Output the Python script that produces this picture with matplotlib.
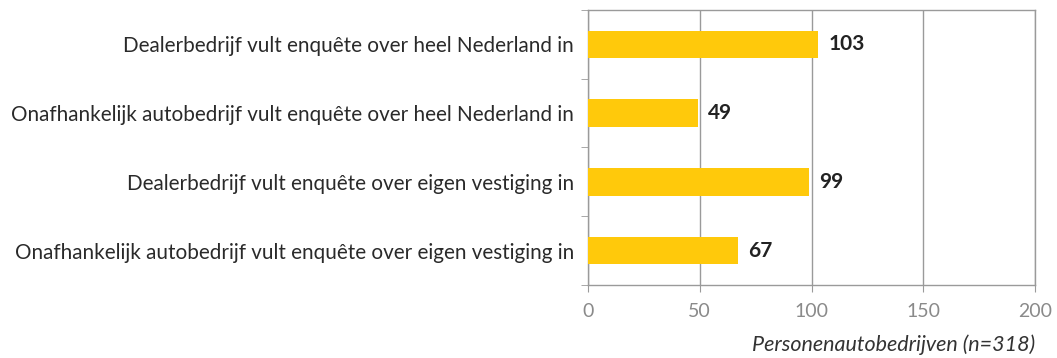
import matplotlib
matplotlib.use("Agg")
import matplotlib.pyplot as plt

categories = [
    "Dealerbedrijf vult enquête over heel Nederland in",
    "Onafhankelijk autobedrijf vult enquête over heel Nederland in",
    "Dealerbedrijf vult enquête over eigen vestiging in",
    "Onafhankelijk autobedrijf vult enquête over eigen vestiging in",
]
values = [103, 49, 99, 67]
xticks = [0, 50, 100, 150, 200]
xlabel = "Personenautobedrijven (n=318)"

plt.rcParams["font.family"] = ["Lato", "DejaVu Sans"]

fig = plt.figure(figsize=(10.57, 3.58), dpi=100)
ax = fig.add_axes([588 / 1057, 1 - 285 / 358, (1035 - 588) / 1057, 275 / 358])

grid_c = "#9a9a9a"
ypos = list(range(len(categories)))[::-1]
ax.barh(ypos, values, height=0.4, color="#FFC90B", zorder=3)
for y, v in zip(ypos, values):
    ax.text(v + 4.5, y, str(v), va="center", ha="left", fontsize=15,
            fontweight="bold", color="#222222", zorder=4)

ax.set_xlim(0, 200)
ax.set_ylim(-0.5, len(categories) - 0.5)
ax.set_xticks(xticks)
ax.set_xticklabels([str(t) for t in xticks], color="#8a8a8a", fontsize=14)
ax.set_yticks(ypos)
ax.set_yticklabels(categories, fontsize=14.9, color="#2a2a2a")
ax.tick_params(axis="y", length=0, pad=10)
ax.set_yticks([i + 0.5 for i in range(-1, len(categories))], minor=True)
ax.tick_params(axis="y", which="minor", length=5, color=grid_c)
ax.tick_params(axis="x", length=5, color=grid_c, pad=8)

ax.grid(axis="x", color=grid_c, linewidth=1, zorder=0)
for s in ax.spines.values():
    s.set_color(grid_c)
    s.set_linewidth(1)

fig.text(1035 / 1057, 1 - 345 / 358, xlabel, ha="right", va="center",
         fontsize=15.5, style="italic", color="#333333")

fig.savefig("out.png", dpi=100)
